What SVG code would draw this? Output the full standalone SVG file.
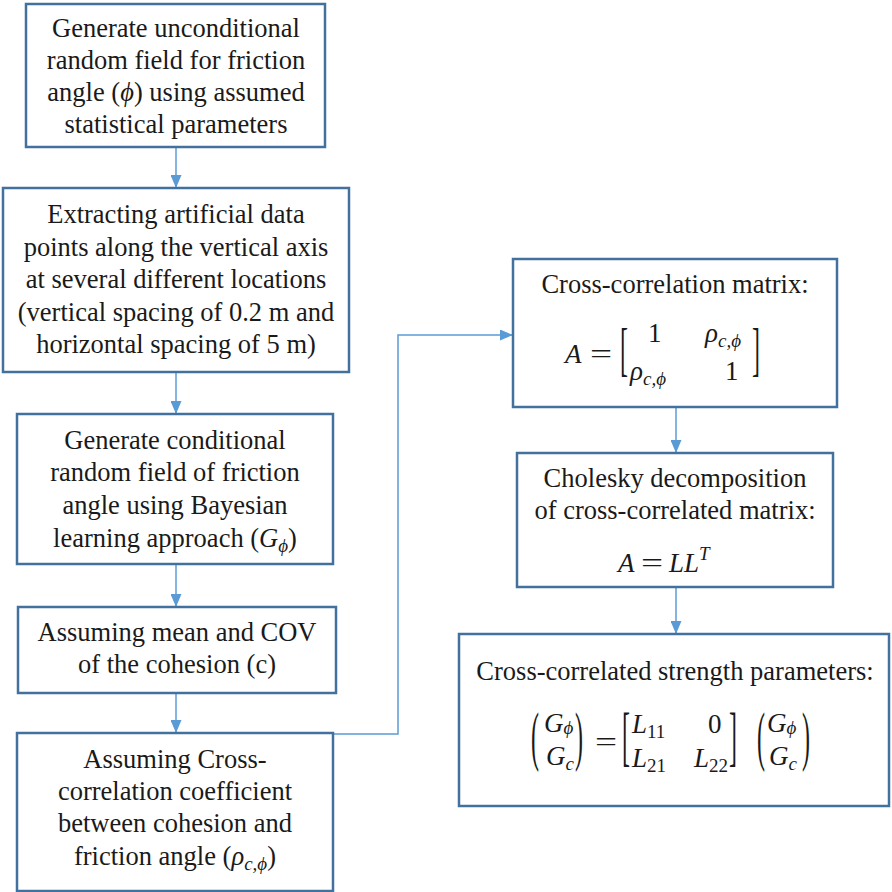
<svg xmlns="http://www.w3.org/2000/svg" width="892" height="892" viewBox="0 0 892 892">
<defs>
<style>
.box{fill:#fff;stroke:#41719C;stroke-width:2.5}
.t{font-family:"Liberation Serif","Times New Roman","DejaVu Serif",serif;font-size:26.5px;fill:#1a1a1a;text-anchor:middle}
.m{font-family:"Liberation Serif","DejaVu Serif",serif;font-size:27px;fill:#1a1a1a;font-style:italic}
.n{font-family:"Liberation Serif","DejaVu Serif",serif;font-size:27px;fill:#1a1a1a}
.s{font-size:19px}
.br{font-family:"Liberation Serif","DejaVu Serif",serif;font-size:24px;fill:#1a1a1a}
.i{font-style:italic}
.c{fill:none;stroke:#5B9BD5;stroke-width:1.5}
</style>
<marker id="ah" markerUnits="userSpaceOnUse" markerWidth="13" markerHeight="11" refX="13" refY="5.5" orient="auto">
<path d="M0,0 L13,5.5 L0,11 z" fill="#5B9BD5"/>
</marker>
</defs>
<rect width="892" height="892" fill="#fff"/>

<g id="connectors">
<path class="c" d="M176,147 V188" marker-end="url(#ah)"/>
<path class="c" d="M176,372 V414" marker-end="url(#ah)"/>
<path class="c" d="M176,564 V607" marker-end="url(#ah)"/>
<path class="c" d="M176,693 V733" marker-end="url(#ah)"/>
<path class="c" d="M333,734 H398 V335 H513" marker-end="url(#ah)"/>
<path class="c" d="M676,407 V453" marker-end="url(#ah)"/>
<path class="c" d="M676,587 V634" marker-end="url(#ah)"/>
</g>

<g id="node1">
<rect class="box" x="26" y="4" width="299" height="143"/>
<text class="t" x="176" y="37">Generate unconditional</text>
<text class="t" x="176" y="69">random field for friction</text>
<text class="t" x="176" y="101">angle (<tspan class="i">ϕ</tspan>) using assumed</text>
<text class="t" x="176" y="133">statistical parameters</text>
</g>

<g id="node2">
<rect class="box" x="3" y="188" width="346" height="184"/>
<text class="t" x="176" y="223">Extracting artificial data</text>
<text class="t" x="176" y="255.5">points along the vertical axis</text>
<text class="t" x="176" y="288">at several different locations</text>
<text class="t" x="176" y="320.5">(vertical spacing of 0.2 m and</text>
<text class="t" x="176" y="353">horizontal spacing of 5 m)</text>
</g>

<g id="node3">
<rect class="box" x="17" y="414" width="316" height="150"/>
<text class="t" x="175" y="449">Generate conditional</text>
<text class="t" x="175" y="481">random field of friction</text>
<text class="t" x="175" y="514">angle using Bayesian</text>
<text class="t" x="175" y="547">learning approach (<tspan class="i">G</tspan><tspan class="i" font-size="19" dy="5">ϕ</tspan><tspan dy="-5">)</tspan></text>
</g>

<g id="node4">
<rect class="box" x="18" y="607" width="318" height="86"/>
<text class="t" x="177" y="641">Assuming mean and COV</text>
<text class="t" x="177" y="673">of the cohesion (c)</text>
</g>

<g id="node5">
<rect class="box" x="17" y="733" width="316" height="158"/>
<text class="t" x="175" y="768">Assuming Cross-</text>
<text class="t" x="175" y="800">correlation coefficient</text>
<text class="t" x="175" y="832">between cohesion and</text>
<text class="t" x="175" y="865">friction angle (<tspan class="i">ρ</tspan><tspan class="i" font-size="19" dy="5">c,ϕ</tspan><tspan dy="-5">)</tspan></text>
</g>

<g id="node6">
<rect class="box" x="513" y="259" width="324" height="148"/>
<text class="t" x="675" y="293">Cross-correlation matrix:</text>
<text class="m" x="565" y="363">A</text>
<text class="n" transform="translate(590,363) scale(1.45,1)">=</text>
<text class="br" transform="translate(620,369) scale(1,2.48)">[</text>
<text class="n" x="648" y="342">1</text>
<text class="m" x="705" y="342">ρ<tspan class="s" dy="5">c,ϕ</tspan></text>
<text class="m" x="630" y="380">ρ<tspan class="s" dy="5">c,ϕ</tspan></text>
<text class="n" x="725" y="380">1</text>
<text class="br" transform="translate(752,369) scale(1,2.48)">]</text>
</g>

<g id="node7">
<rect class="box" x="517" y="453" width="316" height="134"/>
<text class="t" x="675" y="487">Cholesky decomposition</text>
<text class="t" x="675" y="519">of cross-correlated matrix:</text>
<text class="m" x="618" y="572">A</text>
<text class="n" transform="translate(641,572) scale(1.45,1)">=</text>
<text class="m" x="669" y="572">LL<tspan class="s" dy="-12">T</tspan></text>
</g>

<g id="node8">
<rect class="box" x="459" y="634" width="430" height="172"/>
<text class="t" x="675" y="680">Cross-correlated strength parameters:</text>
<text class="br" transform="translate(531,758) scale(1,2.7)">(</text>
<text class="m" x="544" y="732">G<tspan class="s" dy="2">ϕ</tspan></text>
<text class="m" x="546" y="765">G<tspan class="s" dy="5">c</tspan></text>
<text class="br" transform="translate(575,758) scale(1,2.7)">)</text>
<text class="n" transform="translate(595,751) scale(1.45,1)">=</text>
<text class="br" transform="translate(622,758) scale(1,2.7)">[</text>
<text class="m" x="632" y="733">L<tspan class="s" font-style="normal" dy="5">11</tspan></text>
<text class="n" x="708" y="733">0</text>
<text class="m" x="632" y="767">L<tspan class="s" font-style="normal" dy="5">21</tspan></text>
<text class="m" x="694" y="767">L<tspan class="s" font-style="normal" dy="5">22</tspan></text>
<text class="br" transform="translate(729,758) scale(1,2.7)">]</text>
<text class="br" transform="translate(757,758) scale(1,2.7)">(</text>
<text class="m" x="767" y="732">G<tspan class="s" dy="2">ϕ</tspan></text>
<text class="m" x="769" y="765">G<tspan class="s" dy="5">c</tspan></text>
<text class="br" transform="translate(802,758) scale(1,2.7)">)</text>
</g>
</svg>
